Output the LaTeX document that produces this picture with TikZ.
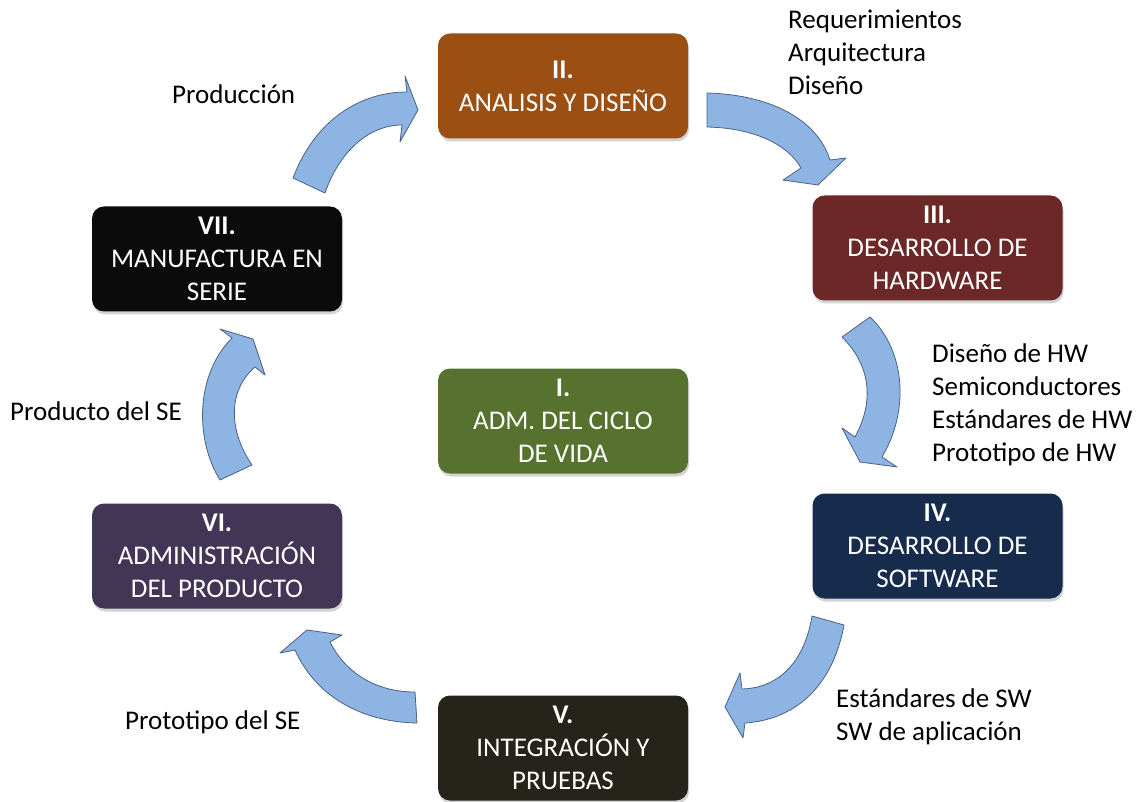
\documentclass[tikz,border=0pt]{standalone}
\usepackage{fontspec}
\setmainfont{Carlito}
\usetikzlibrary{shadows}
\definecolor{cII}{HTML}{9C4F12}
\definecolor{cIII}{HTML}{6B2826}
\definecolor{cIV}{HTML}{172B4D}
\definecolor{cV}{HTML}{26231A}
\definecolor{cVI}{HTML}{433556}
\definecolor{cVII}{HTML}{0B0B0B}
\definecolor{cI}{HTML}{56722E}
\definecolor{arrfill}{HTML}{8DB4E2}
\definecolor{arrdraw}{HTML}{4A6285}
\tikzset{
  phase/.style={draw=none, rounded corners=12pt, minimum width=250pt, minimum height=105pt,
    inner sep=0pt, align=center, text=white, font=\fontsize{27}{33}\selectfont,
    drop shadow={opacity=0.35, shadow xshift=1pt, shadow yshift=-3pt}},
  lbl/.style={anchor=north west, align=left, inner sep=0pt, text=black,
    font=\fontsize{27}{33}\selectfont},
  blockarrow/.style={fill=arrfill, draw=arrdraw, line width=0.8pt, line join=round}
}
\begin{document}
\begin{tikzpicture}[x=1pt,y=-1pt]
\useasboundingbox (0,0) rectangle (1138,802);

% boxes
\node[phase, fill=cII]  (II)  at (563,86)    {\textbf{II.}\\ANALISIS Y DISEÑO};
\node[phase, fill=cIII] (III) at (937.5,248) {\textbf{III.}\\DESARROLLO DE\\HARDWARE};
\node[phase, fill=cIV]  (IV)  at (937.5,546) {\textbf{IV.}\\DESARROLLO DE\\SOFTWARE};
\node[phase, fill=cV]   (V)   at (563,748)   {\textbf{V.}\\INTEGRACIÓN Y\\PRUEBAS};
\node[phase, fill=cVI]  (VI)  at (217,556)   {\textbf{VI.}\\ADMINISTRACIÓN\\DEL PRODUCTO};
\node[phase, fill=cVII] (VII) at (217,259)   {\textbf{VII.}\\MANUFACTURA EN\\SERIE};
\node[phase, fill=cI]   (I)   at (563,421) {\textbf{I.}\\ADM. DEL CICLO\\DE VIDA};

% curved block arrows
% VII -> II
\draw[blockarrow] (293,178) .. controls (315,120) and (360,92) .. (407,92)
  -- (405,76) -- (418,110) -- (400,142) -- (402,125)
  .. controls (370,125) and (340,150) .. (325,193) -- cycle;
% II -> III
\draw[blockarrow] (707,93) .. controls (775,95) and (818,122) .. (830,160)
  -- (846,158) -- (818,185) -- (783,180) -- (801,168)
  .. controls (788,145) and (755,128) .. (707,127) -- cycle;
% III -> IV
\draw[blockarrow] (870,317) .. controls (905,350) and (910,410) .. (882,457)
  -- (897,467) -- (860,462) -- (842,428) -- (855,437)
  .. controls (875,400) and (870,365) .. (842,337) -- cycle;
% IV -> V
\draw[blockarrow] (844,625) .. controls (832,690) and (792,720) .. (745,723)
  -- (743,738) -- (725,707) -- (740,673) -- (742,689)
  .. controls (780,688) and (805,660) .. (812,616) -- cycle;
% V -> VI
\draw[blockarrow] (417,723) .. controls (360,722) and (315,695) .. (295,650)
  -- (280,653) -- (307,630) -- (342,635) -- (330,642)
  .. controls (345,672) and (375,692) .. (415,692) -- cycle;
% VI -> VII
\draw[blockarrow] (220,480) .. controls (195,440) and (195,375) .. (232,338)
  -- (220,329) -- (253,339) -- (265,375) -- (255,367)
  .. controls (228,390) and (228,430) .. (252,465) -- cycle;

% labels
\node[lbl] (lII)  at (788,10)  {Requerimientos\\Arquitectura\\Diseño};
\node[lbl] (lVII) at (172,85)  {Producción};
\node[lbl] (lIII) at (932,344) {Diseño de HW\\Semiconductores\\Estándares de HW\\Prototipo de HW};
\node[lbl] (lVI)  at (10,402)  {Producto del SE};
\node[lbl] (lIV)  at (836,689) {Estándares de SW\\SW de aplicación};
\node[lbl] (lV)   at (125,711) {Prototipo del SE};
\end{tikzpicture}
\end{document}
